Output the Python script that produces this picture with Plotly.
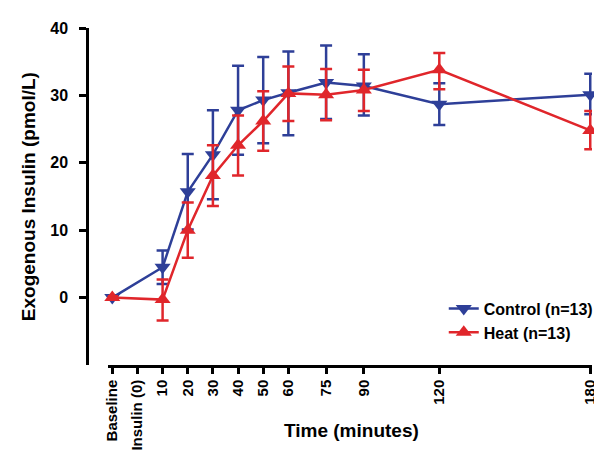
import plotly.graph_objects as go

# Time points (minutes); "Baseline" plotted at -10
time_min = [-10, 10, 20, 30, 40, 50, 60, 75, 90, 120, 180]
tick_vals = [-10, 0, 10, 20, 30, 40, 50, 60, 75, 90, 120, 180]
tick_text = ["Baseline", "Insulin (0)", "10", "20", "30", "40", "50", "60", "75", "90", "120", "180"]

control_mean = [0.0, 4.5, 15.7, 21.2, 27.8, 29.3, 30.4, 31.9, 31.4, 28.7, 30.1]
control_up = [0.3, 2.5, 5.6, 6.6, 6.6, 6.4, 6.1, 5.5, 4.7, 3.1, 3.1]
control_dn = [0.3, 2.5, 5.6, 6.6, 6.6, 6.4, 6.3, 5.4, 4.4, 3.1, 2.9]

heat_mean = [0.0, -0.3, 10.0, 18.1, 22.6, 26.2, 30.3, 30.1, 30.8, 33.8, 24.8]
heat_up = [0.2, 3.0, 4.1, 4.5, 4.4, 4.4, 4.0, 3.8, 3.0, 2.5, 2.9]
heat_dn = [0.2, 3.1, 4.1, 4.5, 4.5, 4.4, 4.1, 3.8, 3.1, 2.9, 2.8]

BLUE = "#2E3F98"
RED = "#E0262B"
FONT = "Liberation Sans, Arial, sans-serif"

fig = go.Figure()
fig.add_trace(go.Scatter(
    x=time_min, y=control_mean, mode="lines+markers", name="Control (n=13)",
    line=dict(color=BLUE, width=2.5),
    marker=dict(symbol="triangle-down", size=14, color=BLUE),
    error_y=dict(type="data", symmetric=False, array=control_up, arrayminus=control_dn,
                 color=BLUE, thickness=2.5, width=6),
    cliponaxis=False,
))
fig.add_trace(go.Scatter(
    x=time_min, y=heat_mean, mode="lines+markers", name="Heat (n=13)",
    line=dict(color=RED, width=2.5),
    marker=dict(symbol="triangle-up", size=14, color=RED),
    error_y=dict(type="data", symmetric=False, array=heat_up, arrayminus=heat_dn,
                 color=RED, thickness=2.5, width=6),
    cliponaxis=False,
))

L, R, T, B = 79, 12, 19, 87
W, H = 602, 455
pw = W - L - R
ph = H - T - B
x_start_px = 100

fig.update_layout(
    width=W, height=H,
    margin=dict(l=L, r=R, t=T, b=B),
    plot_bgcolor="white", paper_bgcolor="white",
    font=dict(family=FONT, color="black"),
    showlegend=True,
    legend=dict(x=(440 - L) / pw, y=(368 - 292) / ph, xanchor="left", yanchor="top",
                font=dict(size=16, family=FONT, color="black", weight="bold"),
                bgcolor="rgba(0,0,0,0)", tracegroupgap=0, itemwidth=30),
    xaxis=dict(
        domain=[(x_start_px - L) / pw, 1],
        range=[-11.8, 180.7],
        tickmode="array", tickvals=tick_vals, ticktext=tick_text,
        tickangle=-90, ticks="outside", ticklen=6, tickwidth=2.5, tickcolor="black",
        showline=True, linecolor="black", linewidth=2.5,
        showgrid=False, zeroline=False,
        tickfont=dict(size=15, family=FONT, color="black", weight="bold"),
    ),
    yaxis=dict(
        anchor="free", position=0,
        range=[-10, 40],
        tickmode="array", tickvals=[0, 10, 20, 30, 40],
        ticks="outside", ticklen=7, tickwidth=2.5, tickcolor="black",
        ticklabelstandoff=8,
        showline=True, linecolor="black", linewidth=2.5,
        showgrid=False, zeroline=False,
        tickfont=dict(size=16, family=FONT, color="black", weight="bold"),
    ),
    annotations=[
        dict(text="<b>Time (minutes)</b>", xref="paper", yref="paper",
             x=(347 - L) / pw, y=(368 - 436) / ph, xanchor="center", yanchor="middle",
             showarrow=False, font=dict(size=19, family=FONT, color="black")),
        dict(text="<b>Exogenous Insulin (pmol/L)</b>", xref="paper", yref="paper",
             x=(20 - L) / pw, y=0.5, xanchor="center", yanchor="middle", textangle=-90,
             showarrow=False, font=dict(size=19, family=FONT, color="black")),
    ],
)

fig.write_html("out.html")
